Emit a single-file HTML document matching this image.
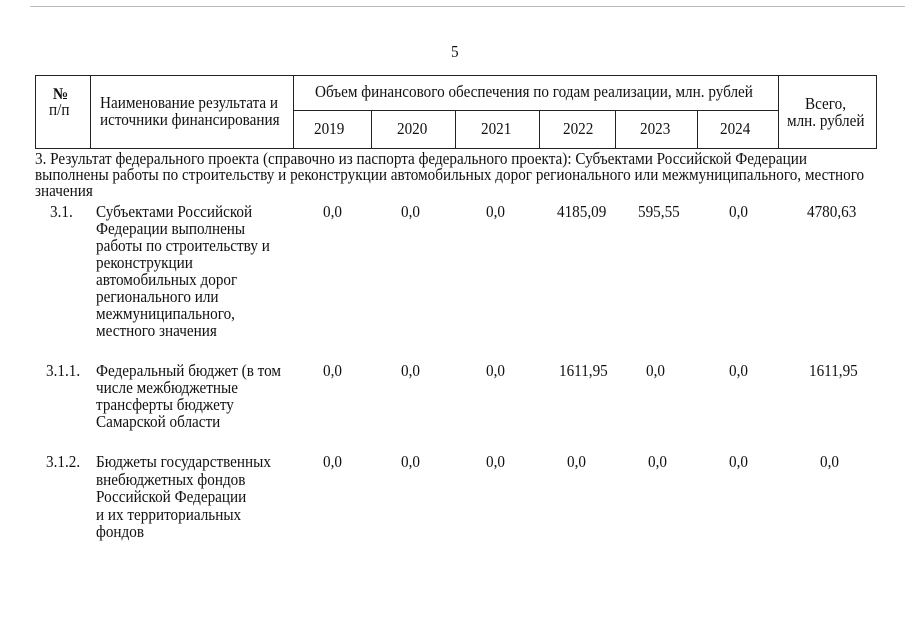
<!DOCTYPE html>
<html><head><meta charset="utf-8"><style>
body{margin:0;width:905px;height:639px;background:#fff;position:relative;overflow:hidden;font-family:"Liberation Serif",serif;color:#111;}
.t{position:absolute;white-space:nowrap;font-size:16.5px;line-height:17px;transform:scaleX(0.92);transform-origin:0 0;}
.h{position:absolute;background:#222;height:1px}
.v{position:absolute;background:#222;width:1px}
</style></head><body>
<div class="h" style="left:30px;top:6px;width:875px;background:#bbb"></div>
<div class="t" style="left:451px;top:43px">5</div>
<div class="h" style="left:35px;top:75px;width:842px"></div>
<div class="h" style="left:35px;top:148px;width:842px"></div>
<div class="h" style="left:293px;top:110px;width:485px"></div>
<div class="v" style="left:35px;top:75px;height:74px"></div>
<div class="v" style="left:90px;top:75px;height:74px"></div>
<div class="v" style="left:293px;top:75px;height:74px"></div>
<div class="v" style="left:371px;top:110px;height:39px"></div>
<div class="v" style="left:455px;top:110px;height:39px"></div>
<div class="v" style="left:539px;top:110px;height:39px"></div>
<div class="v" style="left:615px;top:110px;height:39px"></div>
<div class="v" style="left:697px;top:110px;height:39px"></div>
<div class="v" style="left:778px;top:75px;height:74px"></div>
<div class="v" style="left:876px;top:75px;height:74px"></div>
<div class="t" style="left:53px;top:85px;font-weight:bold">№</div>
<div class="t" style="left:49px;top:101px">п/п</div>
<div class="t" style="left:100px;top:94px">Наименование результата и</div>
<div class="t" style="left:100px;top:111px">источники финансирования</div>
<div class="t" style="left:315px;top:83px">Объем финансового обеспечения по годам реализации, млн. рублей</div>
<div class="t" style="left:314px;top:120px">2019</div>
<div class="t" style="left:397px;top:120px">2020</div>
<div class="t" style="left:481px;top:120px">2021</div>
<div class="t" style="left:563px;top:120px">2022</div>
<div class="t" style="left:640px;top:120px">2023</div>
<div class="t" style="left:720px;top:120px">2024</div>
<div class="t" style="left:805px;top:95px">Всего,</div>
<div class="t" style="left:787px;top:112px">млн. рублей</div>
<div class="t" style="left:35px;top:150px">3. Результат федерального проекта (справочно из паспорта федерального проекта): Субъектами Российской Федерации</div>
<div class="t" style="left:35px;top:166px">выполнены работы по строительству и реконструкции автомобильных дорог регионального или межмуниципального, местного</div>
<div class="t" style="left:35px;top:182px">значения</div>
<div class="t" style="left:50px;top:203px">3.1.</div>
<div class="t" style="left:96px;top:203px">Субъектами Российской<br>Федерации выполнены<br>работы по строительству и<br>реконструкции<br>автомобильных дорог<br>регионального или<br>межмуниципального,<br>местного значения</div>
<div class="t" style="left:323px;top:203px">0,0</div>
<div class="t" style="left:401px;top:203px">0,0</div>
<div class="t" style="left:486px;top:203px">0,0</div>
<div class="t" style="left:557px;top:203px">4185,09</div>
<div class="t" style="left:638px;top:203px">595,55</div>
<div class="t" style="left:729px;top:203px">0,0</div>
<div class="t" style="left:807px;top:203px">4780,63</div>
<div class="t" style="left:46px;top:362px">3.1.1.</div>
<div class="t" style="left:96px;top:362px">Федеральный бюджет (в том<br>числе межбюджетные<br>трансферты бюджету<br>Самарской области</div>
<div class="t" style="left:323px;top:362px">0,0</div>
<div class="t" style="left:401px;top:362px">0,0</div>
<div class="t" style="left:486px;top:362px">0,0</div>
<div class="t" style="left:559px;top:362px">1611,95</div>
<div class="t" style="left:646px;top:362px">0,0</div>
<div class="t" style="left:729px;top:362px">0,0</div>
<div class="t" style="left:809px;top:362px">1611,95</div>
<div class="t" style="left:46px;top:453px">3.1.2.</div>
<div class="t" style="left:96px;top:453px;line-height:17.5px">Бюджеты государственных<br>внебюджетных фондов<br>Российской Федерации<br>и их территориальных<br>фондов</div>
<div class="t" style="left:323px;top:453px">0,0</div>
<div class="t" style="left:401px;top:453px">0,0</div>
<div class="t" style="left:486px;top:453px">0,0</div>
<div class="t" style="left:567px;top:453px">0,0</div>
<div class="t" style="left:648px;top:453px">0,0</div>
<div class="t" style="left:729px;top:453px">0,0</div>
<div class="t" style="left:820px;top:453px">0,0</div>
</body></html>
